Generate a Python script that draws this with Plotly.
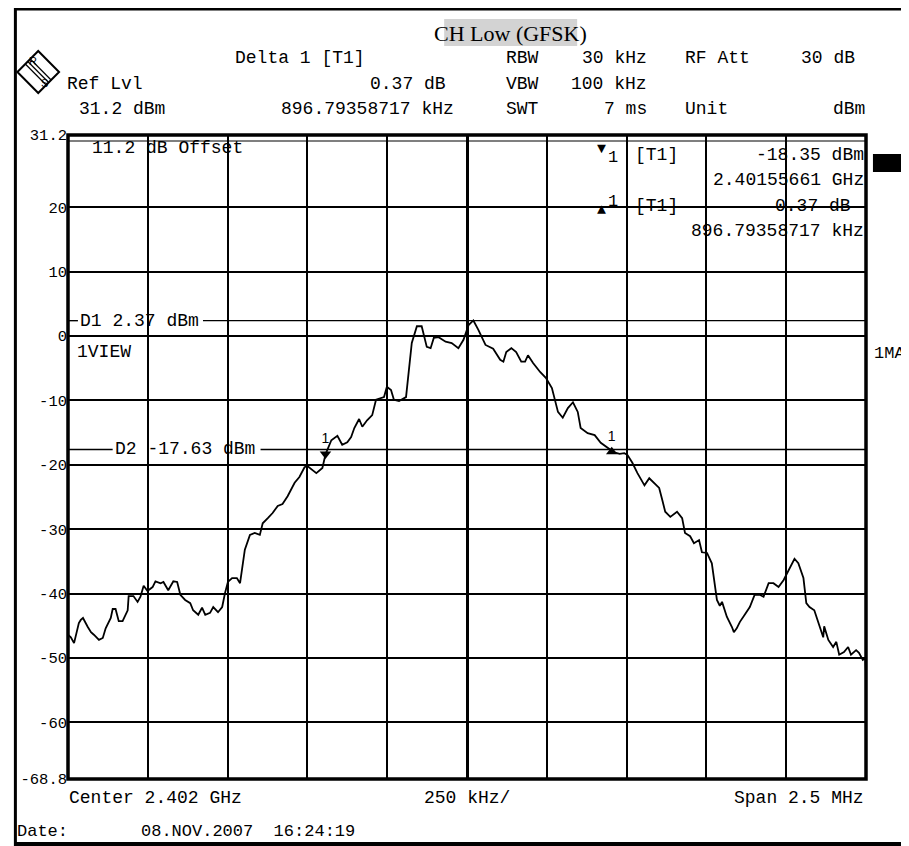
import plotly.graph_objects as go

# ---------------- data ----------------
freq_khz = [-1250, -1241, -1231, -1219, -1216, -1210, -1203, -1188, -1178, -1169,
            -1153, -1141, -1132, -1116, -1110, -1101, -1091, -1079, -1063, -1060,
            -1045, -1032, -1023, -1013, -1001, -985, -976, -960, -951, -936,
            -920, -908, -898, -883, -867, -858, -842, -830, -820, -805,
            -795, -780, -767, -758, -749, -736, -721, -711, -705, -696,
            -680, -665, -649, -640, -624, -609, -593, -578, -562, -540,
            -525, -509, -500, -472, -453, -443, -425, -406, -391, -375,
            -363, -353, -338, -328, -313, -297, -285, -269, -260, -251,
            -238, -229, -213, -191, -182, -173, -157, -142, -126, -114,
            -104, -89, -67, -48, -27, -11, 5, 20, 36, 58,
            82, 104, 114, 123, 139, 154, 170, 182, 191, 207,
            229, 247, 266, 285, 300, 316, 332, 347, 356, 378,
            400, 419, 447, 453, 478, 493, 503, 518, 534, 556,
            571, 587, 602, 612, 621, 637, 658, 674, 683, 699,
            711, 727, 736, 752, 767, 783, 792, 799, 814, 830,
            836, 845, 855, 870, 886, 901, 917, 929, 945, 960,
            976, 992, 1007, 1026, 1038, 1054, 1063, 1073, 1088, 1104,
            1116, 1119, 1132, 1147, 1157, 1166, 1181, 1194, 1203, 1219,
            1228, 1240, 1248, 1250]

level_dbm = [-46.4, -46.8, -47.7, -45.4, -44.6, -44.1, -43.8, -45.2, -46.0, -46.4,
             -47.2, -46.9, -45.4, -43.8, -42.4, -42.4, -44.3, -44.3, -42.6, -40.4,
             -40.4, -41.3, -40.5, -38.8, -39.6, -39.0, -38.1, -38.4, -38.2, -39.5,
             -38.1, -38.2, -40.2, -41.0, -41.5, -42.6, -43.3, -42.2, -43.3, -43.0,
             -42.1, -42.9, -42.1, -39.9, -38.2, -37.6, -37.6, -38.4, -36.3, -33.2,
             -30.9, -30.6, -30.9, -29.1, -28.3, -27.5, -26.4, -26.1, -24.9, -22.8,
             -21.9, -20.4, -20.2, -21.3, -20.5, -18.35, -16.2, -15.5, -16.9, -16.5,
             -15.7, -14.3, -12.9, -14.1, -13.1, -12.3, -9.9, -9.6, -9.5, -7.9,
             -8.4, -9.9, -10.1, -9.5, -4.8, -1.1, 1.5, 1.5, -1.7, -1.9,
             -0.3, -0.2, -0.9, -1.1, -1.9, -0.6, 1.7, 2.4, 0.9, -1.4,
             -2.0, -3.7, -4.0, -2.5, -1.9, -2.5, -4.0, -4.0, -3.0, -4.2,
             -5.6, -6.5, -8.1, -11.8, -12.7, -11.2, -10.3, -11.8, -14.3, -15.1,
             -15.4, -16.6, -17.6, -17.98, -18.3, -18.2, -18.5, -19.7, -21.3, -23.2,
             -22.1, -22.8, -23.6, -25.5, -27.3, -28.1, -27.3, -28.3, -30.6, -31.1,
             -32.2, -31.7, -33.6, -33.7, -35.3, -41.0, -41.9, -41.3, -43.6, -45.2,
             -46.0, -45.4, -44.4, -43.3, -42.1, -40.2, -40.2, -40.5, -38.4, -38.4,
             -39.0, -37.9, -36.5, -34.6, -35.3, -37.6, -41.5, -42.1, -42.6, -44.9,
             -46.8, -45.1, -47.2, -48.3, -47.5, -49.5, -49.1, -48.3, -49.5, -48.8,
             -49.2, -50.3, -50.0, -52.5]
assert len(freq_khz) == len(level_dbm)

center_ghz = 2.402
span_mhz = 2.5
div_khz = 250
ref_level_dbm = 31.2
bottom_level_dbm = -68.8
y_tick_vals = [31.2, 20, 10, 0, -10, -20, -30, -40, -50, -60, -68.8]
y_tick_text = ["31.2", "20", "10", "0", "-10", "-20", "-30", "-40", "-50", "-60", "-68.8"]
d1_dbm = 2.37
d2_dbm = -17.63
m1_freq_ghz = 2.40155661
m1_level_dbm = -18.35
delta_freq_khz = 896.79358717
delta_level_db = 0.37

m1_offset_khz = (m1_freq_ghz - center_ghz) * 1e6
d_offset_khz = m1_offset_khz + delta_freq_khz
d_level_dbm = m1_level_dbm + delta_level_db

# ---------------- layout helpers ----------------
# page coordinates; the html body adds an 8 px margin at top/left
PAGE_W, PAGE_H, BODY = 909, 846, 8
W, H = PAGE_W - BODY, PAGE_H - BODY
L, R, T, B = 62, 866, 135, 779   # plot area in page pixels


def px(x):
    return (x - L) / (R - L)


def py(y):
    return (B - y) / (B - T)


MONO = "Liberation Mono"
half_span = span_mhz * 1000 / 2

fig = go.Figure()
fig.add_trace(go.Scatter(x=freq_khz, y=level_dbm, mode="lines",
                         line=dict(color="black", width=1.8), hoverinfo="skip",
                         showlegend=False))
fig.add_trace(go.Scatter(x=[m1_offset_khz], y=[m1_level_dbm], mode="markers+text",
                         marker=dict(symbol="triangle-down", size=10, color="black"),
                         text=["1"], textposition="top center",
                         textfont=dict(family="Liberation Sans", size=14, color="black"),
                         showlegend=False, hoverinfo="skip"))
fig.add_trace(go.Scatter(x=[d_offset_khz], y=[d_level_dbm], mode="markers+text",
                         marker=dict(symbol="triangle-up", size=10, color="black"),
                         text=["1"], textposition="top center",
                         textfont=dict(family="Liberation Sans", size=14, color="black"),
                         showlegend=False, hoverinfo="skip"))

annotations = []


def txt(s, x, y, anchor="left", size=18, family=MONO, yref="paper"):
    annotations.append(dict(
        text=s, x=px(x), y=(py(y) if yref == "paper" else y), xref="paper", yref=yref,
        xanchor=anchor, yanchor="middle", showarrow=False,
        font=dict(family=family, size=size, color="black")))


# title
txt("CH Low (GFSK)", 508, 33, "center", 22, "Liberation Serif")

# header rows
txt("Delta 1 [T1]", 228, 58)
txt("RBW", 501, 58)
txt("30 kHz", 647, 58, "right")
txt("RF Att", 682, 58)
txt("30 dB", 857, 58, "right")

txt("Ref Lvl", 59, 84)
txt(f"{delta_level_db:.2f} dB", 445, 84, "right")
txt("VBW", 501, 84)
txt("100 kHz", 647, 84, "right")

txt(f"{ref_level_dbm} dBm", 71, 109)
txt(f"{delta_freq_khz:.8f} kHz", 453, 109, "right")
txt("SWT", 501, 109)
txt("7 ms", 647, 109, "right")
txt("Unit", 682, 109)
txt("dBm", 867, 109, "right")

# inside plot
txt("11.2 dB Offset", 84, 148)
txt("\u25bc", 600, 150, "center", 15)
txt("1", 604, 157, "left", 17)
txt("[T1]", 631, 155)
txt(f"{m1_level_dbm:.2f} dBm", 866, 155, "right")
txt(f"{m1_freq_ghz:.8f} GHz", 866, 180, "right")
txt("\u25b2", 600, 210, "center", 15)
txt("1", 604, 201, "left", 17)
txt("[T1]", 631, 206)
txt(f"{delta_level_db:.2f} dB", 853, 206, "right")
txt(f"{delta_freq_khz:.8f} kHz", 866, 231, "right")
txt(f"D1 {d1_dbm:.2f} dBm", 72, d1_dbm, yref="y")
txt(f"D2 {d2_dbm:.2f} dBm", 107, d2_dbm, yref="y")
txt("1VIEW", 69, 352)
txt("1MA", 872, 353, size=17)

# bottom
txt(f"Center {center_ghz} GHz", 61, 798)
txt(f"{div_khz} kHz/", 464, 798, "center")
txt(f"Span {span_mhz} MHz", 866, 798, "right")
txt("Date:", 9, 831, size=17)
txt("08.NOV.2007  16:24:19", 134, 831, size=17)

# logo letters
txt("R", 27, 61, "center", 11, "Liberation Sans")
txt("S", 38, 83, "center", 11, "Liberation Sans")

shapes = []


def pline(x0, y0, x1, y1, w=1.5):
    shapes.append(dict(type="line", xref="paper", yref="paper",
                       x0=px(x0), y0=py(y0), x1=px(x1), y1=py(y1),
                       line=dict(color="black", width=w)))


# title background
shapes.append(dict(type="rect", xref="paper", yref="paper", layer="below",
                   x0=px(441), x1=px(575), y0=py(46), y1=py(19),
                   fillcolor="#d3d3d3", line=dict(width=0)))
# outer frame
pline(9, 8, 9, 846, 3)
pline(8, 9, 909, 9, 3)
pline(8, 844, 909, 844, 4)
# plot border and top display line
shapes.append(dict(type="rect", xref="paper", yref="paper", x0=0, x1=1, y0=0, y1=1,
                   line=dict(color="black", width=3.5)))
pline(L, 141, R, 141, 1.2)
# display lines D1/D2 (broken where the label sits)
for lvl, gap0, gap1 in [(d1_dbm, 72, 198), (d2_dbm, 107, 256)]:
    for a, b in [(L, gap0), (gap1, R)]:
        shapes.append(dict(type="line", xref="paper", yref="y", x0=px(a), x1=px(b),
                           y0=lvl, y1=lvl, line=dict(color="black", width=1.4)))
# black block at right
shapes.append(dict(type="rect", xref="paper", yref="paper",
                   x0=px(873), x1=px(902), y0=py(172), y1=py(154),
                   fillcolor="black", line=dict(width=0)))
# R&S logo diamond
cx, cy, hs = 32, 72, 21
pts = [(cx, cy - hs), (cx + hs, cy), (cx, cy + hs), (cx - hs, cy)]
path = "M " + " L ".join(f"{px(a)},{py(b)}" for a, b in pts) + " Z"
shapes.append(dict(type="path", xref="paper", yref="paper", path=path,
                   line=dict(color="black", width=2)))
for off in (-2.5, 0, 2.5):
    sx0, sy0 = cx - hs / 2 + off, cy - hs / 2 - off
    sx1, sy1 = cx + hs / 2 + off, cy + hs / 2 - off
    pline(sx0, sy0, sx1, sy1, 1.2)

fig.update_layout(
    width=W, height=H,
    margin=dict(l=L - BODY, r=PAGE_W - R, t=T - BODY, b=PAGE_H - B, pad=0),
    paper_bgcolor="white", plot_bgcolor="white",
    showlegend=False,
    annotations=annotations,
    shapes=shapes,
    xaxis=dict(range=[-half_span, half_span], tick0=0, dtick=div_khz,
               showgrid=True, gridcolor="black", gridwidth=1.5,
               zeroline=True, zerolinecolor="black", zerolinewidth=3,
               showticklabels=False, ticks="", showline=False, fixedrange=True),
    yaxis=dict(range=[bottom_level_dbm, ref_level_dbm], tickmode="array",
               tickvals=y_tick_vals, ticktext=y_tick_text,
               showgrid=True, gridcolor="black", gridwidth=1.5, zeroline=False,
               tickfont=dict(family=MONO, size=15.5, color="black"),
               ticks="", showline=False, fixedrange=True),
)

fig.write_html("out.html")
